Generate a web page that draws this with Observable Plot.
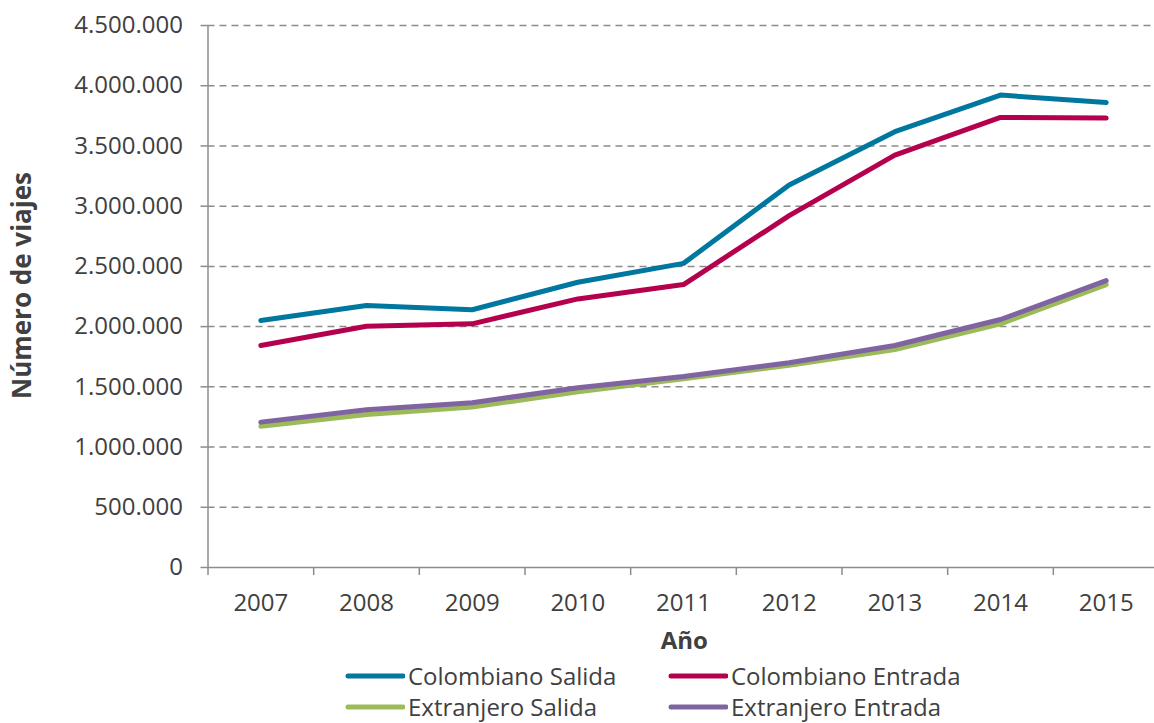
<!DOCTYPE html>
<html>
<head>
<meta charset="utf-8">
<script src="https://cdn.jsdelivr.net/npm/d3@7"></script>
<script src="https://cdn.jsdelivr.net/npm/@observablehq/plot@0.6"></script>
<style>
  html, body { margin: 0; padding: 0; background: #fff; }
  body { width: 1154px; height: 723px; overflow: hidden; font-family: "Open Sans", sans-serif; color: #404040; }
  #legend { display: grid; grid-template-columns: 323px 400px; padding-left: 345px; font-size: 24px; line-height: 31px; }
  .item { display: flex; align-items: center; white-space: nowrap; }
  .item svg { margin-right: 3px; }
</style>
</head>
<body>
<div id="chart"></div>
<div id="legend"></div>
<script>
const years = [2007, 2008, 2009, 2010, 2011, 2012, 2013, 2014, 2015];
const seriesNames = ["Colombiano Salida", "Colombiano Entrada", "Extranjero Salida", "Extranjero Entrada"];
const seriesColors = ["#00779e", "#b5004e", "#9bbb59", "#8064a2"];
const colombianoSalida = [2050000, 2175000, 2140000, 2368000, 2525000, 3176000, 3618000, 3922000, 3861000];
const colombianoEntrada = [1843000, 2003000, 2023000, 2230000, 2349000, 2921000, 3424000, 3737000, 3731000];
const extranjeroSalida = [1172000, 1271000, 1332000, 1459000, 1567000, 1678000, 1810000, 2023000, 2349000];
const extranjeroEntrada = [1207000, 1310000, 1368000, 1493000, 1586000, 1700000, 1843000, 2059000, 2382000];
const yTicks = [0, 500000, 1000000, 1500000, 2000000, 2500000, 3000000, 3500000, 4000000, 4500000];

const allSeries = [colombianoSalida, colombianoEntrada, extranjeroSalida, extranjeroEntrada];
const data = [];
allSeries.forEach((vals, i) => vals.forEach((v, j) => data.push({series: seriesNames[i], year: years[j], value: v})));

const boundaries = years.map(y => y - 0.5).concat([years[years.length - 1] + 0.5]);
const fmt = d3.formatLocale({decimal: ",", thousands: ".", grouping: [3], currency: ["", ""]}).format(",d");
const gray = "#8c8c8c";

const chart = Plot.plot({
  width: 1154,
  height: 660,
  marginTop: 25,
  marginBottom: 93,
  marginLeft: 207.5,
  marginRight: 0,
  style: {fontFamily: "Open Sans", fontSize: "24px", color: "#404040", background: "#fff"},
  x: {type: "linear", domain: [boundaries[0], boundaries[boundaries.length - 1]], range: [207.5, 1158.5]},
  y: {domain: [0, 4500000]},
  color: {domain: seriesNames, range: seriesColors},
  marks: [
    Plot.ruleY(yTicks.filter(d => d > 0), {stroke: gray, strokeWidth: 1.5, strokeDasharray: "7,5"}),
    Plot.ruleY([0], {stroke: gray, strokeWidth: 1.5}),
    Plot.ruleX([boundaries[0]], {y1: 0, y2: 4500000, stroke: gray, strokeWidth: 1.5}),
    Plot.axisY({ticks: yTicks, tickSize: 7, tickPadding: 18, tickFormat: fmt, stroke: gray, strokeWidth: 1.5, label: null, fontSize: 24}),
    Plot.axisX({ticks: boundaries, tickSize: 8, tickFormat: () => "", stroke: gray, strokeWidth: 1.5, label: null}),
    Plot.axisX({ticks: years, tickSize: 0, tickPadding: 26, tickFormat: d => String(d), label: null, fontSize: 24}),
    Plot.text(["Año"], {frameAnchor: "bottom", dx: 3, dy: 81, fontWeight: "bold", fontSize: 24, fill: "#404040"}),
    Plot.text(["Número de viajes"], {frameAnchor: "left", textAnchor: "middle", dx: -185, dy: -11, rotate: -90, fontWeight: "bold", fontSize: 26, fill: "#404040"}),
    Plot.line(data, {x: "year", y: "value", z: "series", stroke: "series", strokeWidth: 5, strokeLinejoin: "round", strokeLinecap: "round"})
  ]
});
document.getElementById("chart").appendChild(chart);

const legend = document.getElementById("legend");
seriesNames.forEach((name, i) => {
  const item = document.createElement("div");
  item.className = "item";
  item.innerHTML = `<svg width="60" height="10"><line x1="3" y1="5" x2="58" y2="5" stroke="${seriesColors[i]}" stroke-width="5" stroke-linecap="round"/></svg><span>${name}</span>`;
  legend.appendChild(item);
});
</script>
</body>
</html>
